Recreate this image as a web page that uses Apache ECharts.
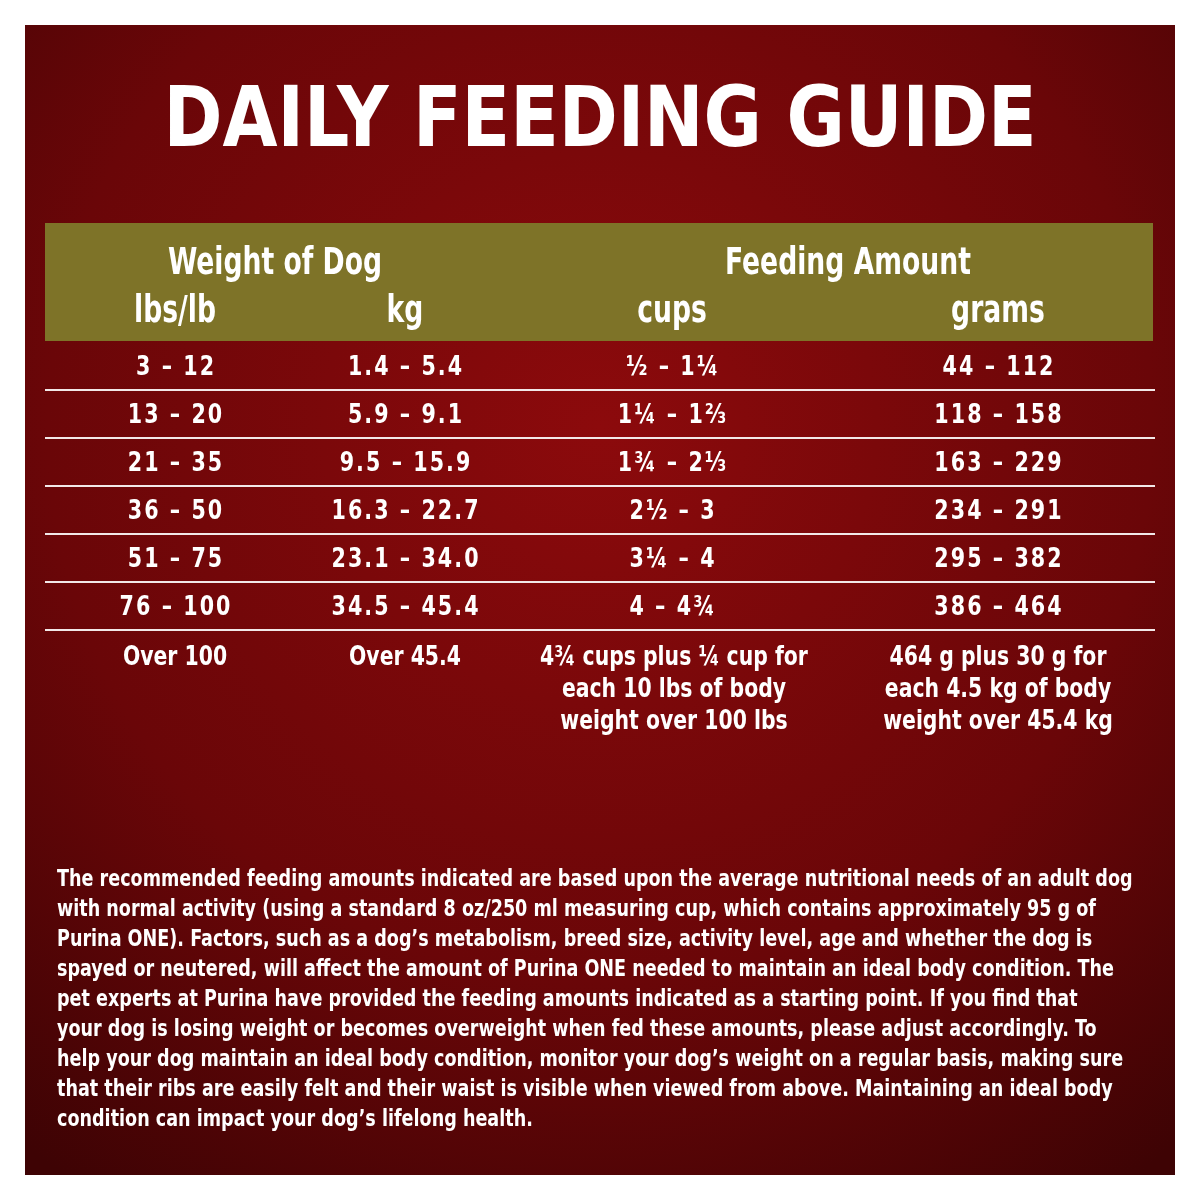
<!DOCTYPE html>
<html><head><meta charset="utf-8">
<script src="https://cdn.jsdelivr.net/npm/echarts@6/dist/echarts.min.js"></script>
<style>html,body{margin:0;padding:0;background:#fff}#c{width:1200px;height:1200px}</style>
</head><body><div id="c"></div>
<script>
const title = 'DAILY FEEDING GUIDE';
const groupHeaders = ['Weight of Dog', 'Feeding Amount'];
const columnHeaders = ['lbs/lb', 'kg', 'cups', 'grams'];
const lbs = ['3 – 12', '13 – 20', '21 – 35', '36 – 50', '51 – 75', '76 – 100'];
const kg = ['1.4 – 5.4', '5.9 – 9.1', '9.5 – 15.9', '16.3 – 22.7', '23.1 – 34.0', '34.5 – 45.4'];
const cups = ['½ – 1¼', '1¼ – 1⅔', '1¾ – 2⅓', '2½ – 3', '3¼ – 4', '4 – 4¾'];
const grams = ['44 – 112', '118 – 158', '163 – 229', '234 – 291', '295 – 382', '386 – 464'];
const lastRow = ['Over 100', 'Over 45.4',
  '4¾ cups plus ¼ cup for\neach 10 lbs of body\nweight over 100 lbs',
  '464 g plus 30 g for\neach 4.5 kg of body\nweight over 45.4 kg'];
const note = [
 'The recommended feeding amounts indicated are based upon the average nutritional needs of an adult dog',
 'with normal activity (using a standard 8 oz/250 ml measuring cup, which contains approximately 95 g of',
 'Purina ONE). Factors, such as a dog’s metabolism, breed size, activity level, age and whether the dog is',
 'spayed or neutered, will affect the amount of Purina ONE needed to maintain an ideal body condition. The',
 'pet experts at Purina have provided the feeding amounts indicated as a starting point. If you find that',
 'your dog is losing weight or becomes overweight when fed these amounts, please adjust accordingly. To',
 'help your dog maintain an ideal body condition, monitor your dog’s weight on a regular basis, making sure',
 'that their ribs are easily felt and their waist is visible when viewed from above. Maintaining an ideal body',
 'condition can impact your dog’s lifelong health.'];

const F = '"DejaVu Sans Condensed",sans-serif';
const colX = [175, 405, 672, 998];
const g = [];
g.push({type:'rect', shape:{x:25,y:25,width:1150,height:1150}, style:{fill:{type:'radial',x:0.5,y:0.35,r:0.8,colorStops:[{offset:0,color:'#8c0a0c'},{offset:0.6,color:'#6a0608'},{offset:1,color:'#3e0304'}]}}});
g.push({type:'text', x:600, y:124, style:{text:title, fill:'#fff', font:'bold 84px '+F, align:'center', verticalAlign:'middle'}, scaleX:0.94});
g.push({type:'rect', shape:{x:45,y:223,width:1108,height:118}, style:{fill:'#7e7328'}});
const hdr = (t,x,y)=>g.push({type:'text', x:x, y:y, scaleX:0.8, style:{text:t, fill:'#fff', font:'bold 37px '+F, align:'center', verticalAlign:'middle'}});
hdr(groupHeaders[0],275,264); hdr(groupHeaders[1],848,264);
columnHeaders.forEach((t,i)=>hdr(t,colX[i],312));
const cols = [lbs, kg, cups, grams];
lbs.forEach((_,r)=>{
  const y = 366 + r*48;
  cols.forEach((c,i)=>g.push({type:'text', x:colX[i], y:y+2, scaleX:0.85, style:{text:c[r].split('').join('\u200a'), fill:'#fff', font:'bold 27px '+F, align:'center', verticalAlign:'middle'}}));
  g.push({type:'rect', shape:{x:45,y:y+23,width:1110,height:2}, style:{fill:'#f2e8e8'}});
});
lastRow.forEach((t,i)=>g.push({type:'text', x:colX[i]+(i===2?2:0), y:642, scaleX:0.84, style:{text:t, fill:'#fff', font:'bold 27px '+F, lineHeight:32, align:'center', verticalAlign:'top'}}));
note.forEach((t,i)=>g.push({type:'text', x:57, y:880+i*30, scaleX:0.85, style:{text:t, fill:'#fff', font:'bold 23px '+F, align:'left', verticalAlign:'middle'}}));
const chart = echarts.init(document.getElementById('c'));
chart.setOption({animation:false, graphic:g});
</script></body></html>
